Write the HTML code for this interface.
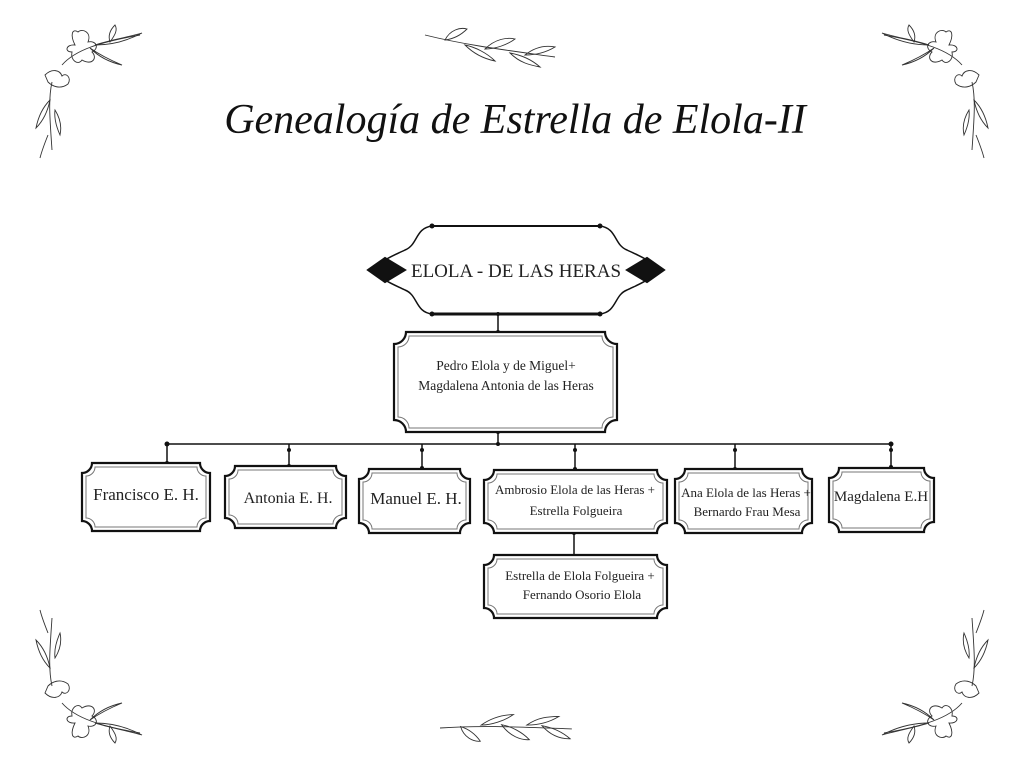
<!DOCTYPE html>
<html><head><meta charset="utf-8"><style>
html,body{margin:0;padding:0;background:#fff;}
#w{position:relative;width:1024px;height:768px;overflow:hidden;background:#fff;}
svg{position:absolute;left:0;top:0;}
.t{font-family:"Liberation Serif",serif;fill:#222;text-anchor:middle;}
</style></head><body><div id="w">
<svg width="1024" height="768" viewBox="0 0 1024 768" id="s">
<defs>
<g id="corner" fill="none" stroke="#333" stroke-width="0.9">
  <path d="M62 65 C75 50 100 42 140 35"/>
  <path d="M95 45 C110 40 125 38 142 33 C125 42 110 45 95 45Z"/>
  <path d="M90 48 C100 55 110 60 122 65 C108 62 98 56 90 48Z"/>
  <path d="M110 42 C115 35 118 30 115 25 C110 30 108 36 110 42Z"/>
  <path d="M75 45 C70 35 72 28 78 32 C82 28 92 32 88 42 C96 40 100 48 92 52 C98 58 92 66 82 60 C78 66 70 60 72 52 C64 52 66 44 75 45Z"/>
  <path d="M45 75 C52 68 60 70 62 76 C66 72 72 78 68 84 C60 90 52 86 48 82Z"/>
  <path d="M52 82 C48 100 50 120 52 150"/>
  <path d="M50 100 C42 108 38 118 36 128 C44 120 48 110 50 100Z"/>
  <path d="M55 110 C60 118 62 126 60 135 C56 126 54 118 55 110Z"/>
  <path d="M48 135 C44 145 42 150 40 158"/>
</g>
<g id="sprig" fill="none" stroke="#333" stroke-width="0.9">
  <path d="M0 0 C40 10 80 15 130 22"/>
  <path d="M20 5 C25 -5 35 -8 42 -6 C36 0 28 4 20 5Z"/>
  <path d="M40 10 C50 20 60 24 70 26 C62 18 50 12 40 10Z"/>
  <path d="M60 14 C70 4 82 2 90 4 C82 10 70 14 60 14Z"/>
  <path d="M85 18 C95 28 105 30 115 32 C106 24 96 20 85 18Z"/>
  <path d="M100 20 C110 12 120 10 130 12 C120 18 110 20 100 20Z"/>
</g>
</defs>
<use href="#corner"/>
<use href="#corner" transform="translate(1024,0) scale(-1,1)"/>
<use href="#corner" transform="translate(0,768) scale(1,-1)"/>
<use href="#corner" transform="translate(1024,768) scale(-1,-1)"/>
<use href="#sprig" transform="translate(425,35)"/>
<use href="#sprig" transform="translate(440,728) scale(1,-1) rotate(-10)"/>

<text x="515" y="133" class="t" style="font-style:italic;font-size:42px;fill:#111">Genealogía de Estrella de Elola-II</text>

<!-- header frame -->
<g stroke="#111" fill="none" stroke-width="2">
<line x1="432" y1="226" x2="600" y2="226"/>
<line x1="432" y1="314" x2="600" y2="314" stroke-width="3"/>
<path d="M432 226 C415 228 418 245 405 250 C395 255 385 258 372 270 C385 282 395 285 405 290 C418 295 415 312 432 314" stroke-width="1.5"/>
<path d="M600 226 C617 228 614 245 627 250 C637 255 647 258 660 270 C647 282 637 285 627 290 C614 295 617 312 600 314" stroke-width="1.5"/>
<path d="M368 270 L385 258 L405 270 L385 282Z" fill="#111"/>
<path d="M664 270 L647 258 L627 270 L647 282Z" fill="#111"/>
</g>
<g fill="#111"><circle cx="432" cy="226" r="2.5"/><circle cx="600" cy="226" r="2.5"/><circle cx="432" cy="314" r="2.5"/><circle cx="600" cy="314" r="2.5"/></g>
<text x="516" y="277" class="t" style="font-size:19px">ELOLA - DE LAS HERAS</text>

<!-- connectors -->
<g stroke="#111" stroke-width="1.5">
<line x1="498" y1="314" x2="498" y2="332"/>
<line x1="498" y1="432" x2="498" y2="444"/>
<line x1="167" y1="444" x2="891" y2="444"/>
<line x1="167" y1="444" x2="167" y2="463"/>
<line x1="289" y1="444" x2="289" y2="466"/>
<line x1="422" y1="444" x2="422" y2="468"/>
<line x1="575" y1="444" x2="575" y2="469"/>
<line x1="735" y1="444" x2="735" y2="469"/>
<line x1="891" y1="444" x2="891" y2="467"/>
<line x1="574" y1="533" x2="574" y2="558"/>
</g>
<g fill="#111">
<circle cx="498" cy="314" r="2"/><circle cx="498" cy="332" r="2"/><circle cx="498" cy="432" r="2"/><circle cx="498" cy="444" r="2"/>
<circle cx="167" cy="444" r="2.5"/><circle cx="891" cy="444" r="2.5"/>
<circle cx="167" cy="463" r="2"/><circle cx="289" cy="450" r="2"/><circle cx="289" cy="466" r="2"/>
<circle cx="422" cy="450" r="2"/><circle cx="422" cy="468" r="2"/><circle cx="575" cy="450" r="2"/><circle cx="575" cy="469" r="2"/>
<circle cx="735" cy="450" r="2"/><circle cx="735" cy="469" r="2"/><circle cx="891" cy="450" r="2"/><circle cx="891" cy="467" r="2"/>
<circle cx="574" cy="533" r="2"/><circle cx="574" cy="558" r="2"/>
</g>
<g id="boxes"></g>

<g class="t" style="font-size:13.5px">
<text x="506" y="370">Pedro Elola y de Miguel+</text>
<text x="506" y="390">Magdalena Antonia de las Heras</text>
</g>
<text x="146" y="500" class="t" style="font-size:17px">Francisco E. H.</text>
<text x="288" y="503" class="t" style="font-size:16px">Antonia E. H.</text>
<text x="416" y="504" class="t" style="font-size:17px">Manuel E. H.</text>
<g class="t" style="font-size:13px">
<text x="575" y="494">Ambrosio Elola de las Heras +</text>
<text x="576" y="515">Estrella Folgueira</text>
<text x="746" y="497">Ana Elola de las Heras +</text>
<text x="747" y="516">Bernardo Frau Mesa</text>
<text x="580" y="580">Estrella de Elola Folgueira +</text>
<text x="582" y="599">Fernando Osorio Elola</text>
</g>
<text x="881" y="501" class="t" style="font-size:15px">Magdalena E.H</text>
</svg>
<script>
(function(){
 var b=[[394,332,223,100,12],[82,463,128,68,10],[225,466,121,62,10],[359,469,111,64,10],[484,470,183,63,10],[675,469,137,64,10],[829,468,105,64,10],[484,555,183,63,10]];
 function p(x,y,w,h,r){return "M"+(x+r)+" "+y+"H"+(x+w-r)+"A"+r+" "+r+" 0 0 0 "+(x+w)+" "+(y+r)+"V"+(y+h-r)+"A"+r+" "+r+" 0 0 0 "+(x+w-r)+" "+(y+h)+"H"+(x+r)+"A"+r+" "+r+" 0 0 0 "+x+" "+(y+h-r)+"V"+(y+r)+"A"+r+" "+r+" 0 0 0 "+(x+r)+" "+y+"Z";}
 var s="";
 b.forEach(function(a){
  s+='<path d="'+p(a[0],a[1],a[2],a[3],a[4])+'" fill="#fff" stroke="#111" stroke-width="2.2"/>';
  s+='<path d="'+p(a[0]+4,a[1]+4,a[2]-8,a[3]-8,a[4]-1)+'" fill="none" stroke="#777" stroke-width="1"/>';
 });
 document.getElementById("boxes").innerHTML=s;
})();
</script>
</div></body></html>
